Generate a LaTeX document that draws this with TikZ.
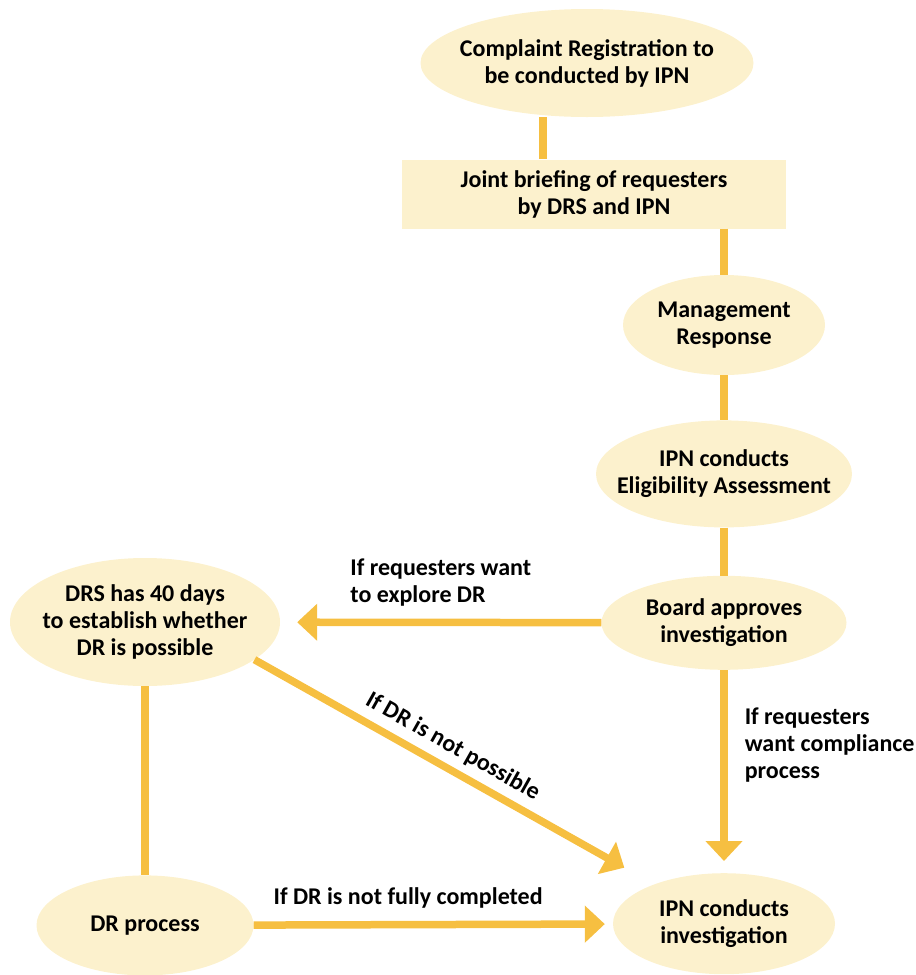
\documentclass[tikz,border=0pt]{standalone}
\usepackage{fontspec}
\setmainfont{Carlito}
\usetikzlibrary{positioning,shapes.geometric,arrows.meta}
\definecolor{cream}{HTML}{FCF1CD}
\definecolor{amber}{HTML}{F6BF41}

\begin{document}
\begin{tikzpicture}[
    x=1pt, y=-1pt,
    font=\fontsize{24}{27}\selectfont\bfseries,
    oval/.style={ellipse, fill=cream, align=center, inner xsep=-20pt, inner ysep=0pt},
    box/.style={rectangle, fill=cream, align=center},
    link/.style={draw=amber, line width=7.5pt},
    arrow/.style={link, -{Triangle[width=36pt, length=20pt]}},
    note/.style={align=left, inner sep=3pt}
]
\useasboundingbox (0,0) rectangle (916,975);

\node[oval, minimum width=333pt, minimum height=108pt] (complaint) at (587,63) {Complaint Registration to\\be conducted by IPN};
\node[box, minimum width=384pt, minimum height=69pt] (brief) at (594,194) {Joint briefing of requesters\\by DRS and IPN};
\node[oval, minimum width=202pt, minimum height=100pt] (mgmt) at (724,325) {Management\\Response};
\node[oval, minimum width=256pt, minimum height=107pt, below=45pt of mgmt] (elig) {IPN conducts\\Eligibility Assessment};
\node[oval, minimum width=245pt, minimum height=94pt, below=48pt of elig] (board) {Board approves\\investigation};
\node[oval, minimum width=222pt, minimum height=101pt, below=203pt of board] (invest) {IPN conducts\\investigation};
\node[oval, minimum width=270pt, minimum height=128pt] (drs) at (145,622) {DRS has 40 days\\to establish whether\\DR is possible};
\node[oval, minimum width=217pt, minimum height=100pt, below=189pt of drs] (drproc) {DR process};

\draw[link] ([xshift=-44pt]complaint.south) -- ([xshift=-51pt]brief.north);
\draw[link] (brief.south -| mgmt) -- (mgmt);
\draw[link] (mgmt) -- (elig);
\draw[link] (elig) -- (board);
\draw[arrow, shorten >=17pt] (board) -- node[note, midway, above=9pt] (lblexplore) {If requesters want\\to explore DR} (drs);
\draw[arrow, shorten >=12pt] (board) -- node[note, pos=0.37, right=14pt] (lblcompliance) {If requesters\\want compliance\\process} (invest);
\draw[arrow, shorten >=34pt] (drs.-19) -- node[sloped, pos=0.47, above=4pt] (lblnotpossible) {If DR is not possible} (invest);
\draw[link] (drs) -- (drproc);
\draw[arrow, shorten >=8pt] (drproc) -- node[pos=0.43, above=9pt] (lblnotcompleted) {If DR is not fully completed} (invest);
\end{tikzpicture}
\end{document}
